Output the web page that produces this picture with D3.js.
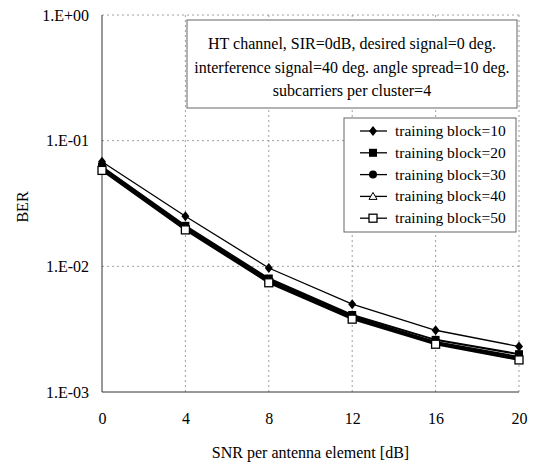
<!DOCTYPE html>
<html><head><meta charset="utf-8">
<script src="https://cdn.jsdelivr.net/npm/d3@7"></script>
<style>
body{margin:0;background:#fff;}
text{font-family:"Liberation Serif","Times New Roman",serif;fill:#000;}
</style></head>
<body><svg id="c" width="536" height="470"></svg>
<script>
const snr = [0, 4, 8, 12, 16, 20];
const tb10 = [0.068, 0.025, 0.0097, 0.0050, 0.0031, 0.0023];
const tb20 = [0.062, 0.021, 0.0080, 0.0041, 0.0026, 0.0020];
const tb30 = [0.061, 0.0205, 0.0078, 0.0040, 0.0025, 0.0019];
const tb40 = [0.060, 0.020, 0.0076, 0.0039, 0.00245, 0.00185];
const tb50 = [0.058, 0.0195, 0.0074, 0.0038, 0.0024, 0.0018];
const seriesNames = ["training block=10","training block=20","training block=30","training block=40","training block=50"];
const yTicks = [1, 0.1, 0.01, 0.001];
const yTickLabels = ["1.E+00","1.E-01","1.E-02","1.E-03"];
const annotation = ["HT channel, SIR=0dB, desired signal=0 deg.","interference signal=40 deg. angle spread=10 deg.","subcarriers per cluster=4"];

const series = [tb10,tb20,tb30,tb40,tb50];
const markers = ["diamond","square","circle","triangle","squareOpen"];

const svg = d3.select("#c");
const L=102, R=519, T=15, B=392;
const x = d3.scaleLinear().domain([0,20]).range([L,R]);
const y = d3.scaleLog().domain([0.001,1]).range([B,T]);

// grid
const g = svg.append("g");
g.selectAll("line.vg").data(snr.slice(1)).enter().append("line")
  .attr("x1",d=>x(d)).attr("x2",d=>x(d)).attr("y1",T).attr("y2",B)
  .attr("stroke","#888").attr("stroke-width",0.8).attr("stroke-dasharray","2,3");
g.selectAll("line.hg").data(yTicks.slice(0,3)).enter().append("line")
  .attr("x1",L).attr("x2",R).attr("y1",d=>y(d)).attr("y2",d=>y(d))
  .attr("stroke","#888").attr("stroke-width",0.8).attr("stroke-dasharray","2,3");
// frame
svg.append("line").attr("x1",L).attr("x2",L).attr("y1",T).attr("y2",B).attr("stroke","#333");
svg.append("line").attr("x1",L).attr("x2",R).attr("y1",B).attr("y2",B).attr("stroke","#333");

// axes
const xAxis = d3.axisBottom(x).tickValues(snr).tickSize(0).tickPadding(21);
const xa = svg.append("g").attr("transform",`translate(0,${B})`).call(xAxis);
xa.select(".domain").remove();
xa.selectAll("text").style("font-size","16px").style("font-family","Liberation Serif");
const yAxis = d3.axisLeft(y).tickValues(yTicks).tickFormat((d,i)=>yTickLabels[i]).tickSize(0).tickPadding(13);
const ya = svg.append("g").attr("transform",`translate(${L},0)`).call(yAxis);
ya.select(".domain").remove();
ya.selectAll("text").style("font-size","16px").style("font-family","Liberation Serif");

svg.append("text").attr("x",(L+R)/2).attr("y",458).attr("text-anchor","middle").style("font-size","16px").text("SNR per antenna element [dB]");
svg.append("text").attr("transform",`translate(28,207) rotate(-90)`).attr("text-anchor","middle").style("font-size","16px").text("BER");

// lines
const line = d3.line().x((d,i)=>x(snr[i])).y(d=>y(d));
series.forEach((s,k)=>{
  svg.append("path").datum(s).attr("d",line).attr("fill","none").attr("stroke","#000").attr("stroke-width",k==0?1.3:2);
});
function drawMarker(sel,type,cx,cy){
  const s=4;
  if(type==="diamond") sel.append("path").attr("d",`M${cx},${cy-s-1}L${cx+s},${cy}L${cx},${cy+s+1}L${cx-s},${cy}Z`).attr("fill","#000");
  else if(type==="square") sel.append("rect").attr("x",cx-s).attr("y",cy-s).attr("width",2*s).attr("height",2*s).attr("fill","#000");
  else if(type==="circle") sel.append("circle").attr("cx",cx).attr("cy",cy).attr("r",s).attr("fill","#000");
  else if(type==="triangle") sel.append("path").attr("d",`M${cx},${cy-s}L${cx+s},${cy+s-1}L${cx-s},${cy+s-1}Z`).attr("fill","#fff").attr("stroke","#000").attr("stroke-width",1);
  else sel.append("rect").attr("x",cx-s).attr("y",cy-s).attr("width",2*s).attr("height",2*s).attr("fill","#fff").attr("stroke","#000").attr("stroke-width",1.3);
}
series.forEach((s,k)=>{
  const mg = svg.append("g");
  s.forEach((v,i)=>drawMarker(mg,markers[k],x(snr[i]),y(v)));
});

// annotation box
svg.append("rect").attr("x",187).attr("y",20).attr("width",330).attr("height",88).attr("fill","#fff").attr("stroke","#666").attr("stroke-width",1);
annotation.forEach((t,i)=>{
  svg.append("text").attr("x",352).attr("y",49+i*23.5).attr("text-anchor","middle").style("font-size","16px").text(t);
});

// legend
const lgX=344, lgY=118, lgW=172, rowH=21.8;
svg.append("rect").attr("x",lgX).attr("y",lgY).attr("width",lgW).attr("height",114).attr("fill","#fff").attr("stroke","#666");
seriesNames.forEach((n,k)=>{
  const cy=lgY+13+k*rowH;
  svg.append("line").attr("x1",lgX+16).attr("x2",lgX+43).attr("y1",cy).attr("y2",cy).attr("stroke","#000").attr("stroke-width",1.3);
  drawMarker(svg,markers[k],lgX+29,cy);
  svg.append("text").attr("x",lgX+51).attr("y",cy+5).style("font-size","15.5px").text(n);
});
</script></body></html>
